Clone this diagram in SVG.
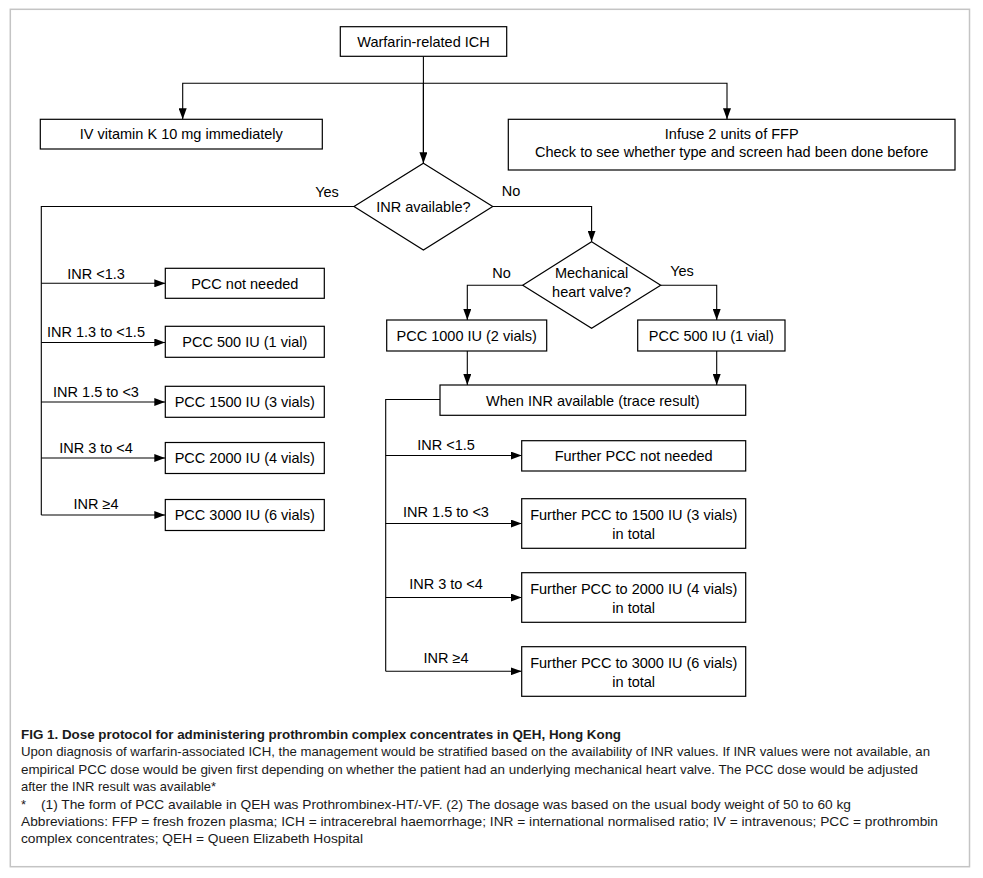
<svg xmlns="http://www.w3.org/2000/svg" width="983" height="878" viewBox="0 0 983 878">
<defs>
<marker id="arr" markerUnits="userSpaceOnUse" markerWidth="11" markerHeight="8" refX="11" refY="4" orient="auto">
<path d="M0,0 L11,4 L0,8 z" fill="#000"/>
</marker>
<style>
.box{fill:#fff;stroke:#000;stroke-width:1.2}
.t{font-family:"Liberation Sans",Arial,sans-serif;font-size:14.5px;fill:#000;text-anchor:middle}
.lb{font-family:"Liberation Sans",Arial,sans-serif;font-size:14.5px;fill:#000;text-anchor:middle}
.ln{fill:none;stroke:#000;stroke-width:1.1}
.a{marker-end:url(#arr)}
.cap{font-family:"Liberation Sans",Arial,sans-serif;font-size:13px;fill:#1a1a1a}
</style>
</defs>
<rect x="0" y="0" width="983" height="878" fill="#fff"/>
<rect x="10.3" y="9.3" width="959.2" height="857.4" fill="none" stroke="#c4c4c4" stroke-width="1.5"/>

<g id="connectors">
<path class="ln" d="M423.4,56.3 V163.3"/>
<path class="ln a" d="M423.4,83.3 H182.7 V119.3"/>
<path class="ln a" d="M423.4,83.3 H727 V119.3"/>
<path class="ln a" d="M423.4,83.3 V163.3"/>
<path class="ln" d="M354,206.5 H41.3 V515"/>
<path class="ln a" d="M41.3,283.3 H165.3"/>
<path class="ln a" d="M41.3,342.5 H165.3"/>
<path class="ln a" d="M41.3,402 H165.3"/>
<path class="ln a" d="M41.3,458 H165.3"/>
<path class="ln a" d="M41.3,515 H165.3"/>
<path class="ln a" d="M492.7,206.5 H591.6 V241.7"/>
<path class="ln a" d="M522.7,285.3 H467.3 V320"/>
<path class="ln a" d="M660.7,285.3 H716.7 V320"/>
<path class="ln a" d="M467.3,351 V385"/>
<path class="ln a" d="M716.7,351 V385"/>
<path class="ln" d="M440,399.5 H385.7 V671.3"/>
<path class="ln a" d="M385.7,455.5 H521.7"/>
<path class="ln a" d="M385.7,523.5 H521.7"/>
<path class="ln a" d="M385.7,597.5 H521.7"/>
<path class="ln a" d="M385.7,671.3 H521.7"/>
<text class="lb" x="327" y="197">Yes</text>
<text class="lb" x="511" y="196">No</text>
<text class="lb" x="501.5" y="278">No</text>
<text class="lb" x="682" y="276">Yes</text>
<text class="lb" x="96" y="278.5">INR &lt;1.3</text>
<text class="lb" x="96" y="337">INR 1.3 to &lt;1.5</text>
<text class="lb" x="96" y="396.5">INR 1.5 to &lt;3</text>
<text class="lb" x="96" y="452.5">INR 3 to &lt;4</text>
<text class="lb" x="96" y="508.5">INR ≥4</text>
<text class="lb" x="446" y="449.5">INR &lt;1.5</text>
<text class="lb" x="446" y="517">INR 1.5 to &lt;3</text>
<text class="lb" x="446" y="588.5">INR 3 to &lt;4</text>
<text class="lb" x="446" y="663">INR ≥4</text>
</g>

<g id="n-warfarin"><rect class="box" x="340.3" y="26.7" width="166.4" height="29.6"/><text class="t" x="423.5" y="46.5">Warfarin-related ICH</text></g>
<g id="n-vitk"><rect class="box" x="40.3" y="119.3" width="282" height="29.7"/><text class="t" x="181.3" y="139">IV vitamin K 10 mg immediately</text></g>
<g id="n-ffp"><rect class="box" x="508.3" y="119.3" width="446.7" height="50.7"/><text class="t" x="731.7" y="138.5">Infuse 2 units of FFP</text><text class="t" x="731.7" y="157">Check to see whether type and screen had been done before</text></g>
<g id="n-inr"><polygon class="box" points="423.4,163.3 492.7,206.5 423.4,250 354,206.5"/><text class="t" x="423.4" y="212">INR available?</text></g>
<g id="n-valve"><polygon class="box" points="591.6,241.7 660.7,285.3 591.6,328.3 522.7,285.3"/><text class="t" x="591.6" y="278.3">Mechanical</text><text class="t" x="591.6" y="297.3">heart valve?</text></g>
<g id="n-l1"><rect class="box" x="165.3" y="268.3" width="159" height="30"/><text class="t" x="244.8" y="288.8">PCC not needed</text></g>
<g id="n-l2"><rect class="box" x="165.3" y="326.3" width="159" height="31"/><text class="t" x="244.8" y="347.3">PCC 500 IU (1 vial)</text></g>
<g id="n-l3"><rect class="box" x="165.3" y="386.3" width="159" height="31"/><text class="t" x="244.8" y="407">PCC 1500 IU (3 vials)</text></g>
<g id="n-l4"><rect class="box" x="165.3" y="442.5" width="159" height="31"/><text class="t" x="244.8" y="463.3">PCC 2000 IU (4 vials)</text></g>
<g id="n-l5"><rect class="box" x="165.3" y="499.5" width="159" height="31"/><text class="t" x="244.8" y="520.3">PCC 3000 IU (6 vials)</text></g>
<g id="n-pcc1000"><rect class="box" x="386.7" y="320" width="160" height="31"/><text class="t" x="466.7" y="341">PCC 1000 IU (2 vials)</text></g>
<g id="n-pcc500"><rect class="box" x="637.7" y="320" width="147.3" height="31"/><text class="t" x="711.3" y="341">PCC 500 IU (1 vial)</text></g>
<g id="n-when"><rect class="box" x="440" y="385" width="305.7" height="30.3"/><text class="t" x="592.8" y="405.5">When INR available (trace result)</text></g>
<g id="n-r1"><rect class="box" x="521.7" y="440.7" width="224" height="30.3"/><text class="t" x="633.7" y="461">Further PCC not needed</text></g>
<g id="n-r2"><rect class="box" x="521.7" y="498.7" width="224" height="49.6"/><text class="t" x="633.7" y="520">Further PCC to 1500 IU (3 vials)</text><text class="t" x="633.7" y="538.5">in total</text></g>
<g id="n-r3"><rect class="box" x="521.7" y="572.7" width="224" height="49.6"/><text class="t" x="633.7" y="594">Further PCC to 2000 IU (4 vials)</text><text class="t" x="633.7" y="612.5">in total</text></g>
<g id="n-r4"><rect class="box" x="521.7" y="646.7" width="224" height="49.6"/><text class="t" x="633.7" y="668">Further PCC to 3000 IU (6 vials)</text><text class="t" x="633.7" y="686.5">in total</text></g>

<g id="caption">
<text class="cap" x="21" y="739" font-weight="bold" textLength="600" lengthAdjust="spacingAndGlyphs">FIG 1. Dose protocol for administering prothrombin complex concentrates in QEH, Hong Kong</text>
<text class="cap" x="21" y="756" textLength="909" lengthAdjust="spacingAndGlyphs">Upon diagnosis of warfarin-associated ICH, the management would be stratified based on the availability of INR values. If INR values were not available, an</text>
<text class="cap" x="21" y="774" textLength="897" lengthAdjust="spacingAndGlyphs">empirical PCC dose would be given first depending on whether the patient had an underlying mechanical heart valve. The PCC dose would be adjusted</text>
<text class="cap" x="21" y="791" textLength="195" lengthAdjust="spacingAndGlyphs">after the INR result was available*</text>
<text class="cap" x="21" y="808.7">*</text>
<text class="cap" x="41" y="808.7" textLength="810" lengthAdjust="spacingAndGlyphs">(1) The form of PCC available in QEH was Prothrombinex-HT/-VF. (2) The dosage was based on the usual body weight of 50 to 60 kg</text>
<text class="cap" x="21" y="826" textLength="917" lengthAdjust="spacingAndGlyphs">Abbreviations: FFP = fresh frozen plasma; ICH = intracerebral haemorrhage; INR = international normalised ratio; IV = intravenous; PCC = prothrombin</text>
<text class="cap" x="21" y="843.3" textLength="342" lengthAdjust="spacingAndGlyphs">complex concentrates; QEH = Queen Elizabeth Hospital</text>
</g>
</svg>
